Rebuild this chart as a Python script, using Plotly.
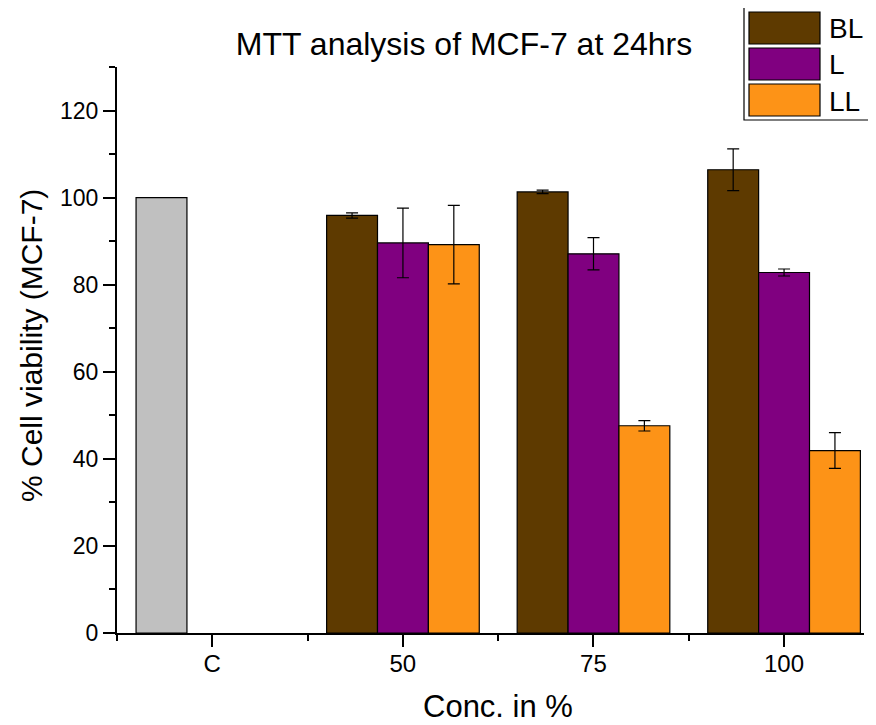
import plotly.graph_objects as go

categories = ["C", "50", "75", "100"]
control_value = [100.0]
series_names = ["BL", "L", "LL"]
bl_values = [None, 95.9, 101.3, 106.4]
bl_errors = [0, 0.6, 0.4, 4.8]
l_values = [None, 89.6, 87.1, 82.8]
l_errors = [0, 8.0, 3.7, 0.8]
ll_values = [None, 89.2, 47.6, 41.9]
ll_errors = [0, 9.0, 1.2, 4.1]
y_tick_values = [0, 20, 40, 60, 80, 100, 120]

colors = {"BL": "#5E3A00", "L": "#800080", "LL": "#FD9317"}
control_color = "#C0C0C0"

# page has an 8px body margin; work in page pixel coordinates and shift
OFF = 8
W, H = 876 - OFF, 725 - OFF
PLOT_L, PLOT_R, PLOT_T, PLOT_B = 117, 864, 67, 633  # page pixels
ML, MR = PLOT_L - OFF, W - (PLOT_R - OFF)
MT, MB = PLOT_T - OFF, H - (PLOT_B - OFF)
PW, PH = W - ML - MR, H - MT - MB

xpos = list(range(len(categories)))
bw = 0.267
offsets = {"BL": -0.4, "L": -0.4 + bw, "LL": -0.4 + 2 * bw}

fig = go.Figure()

fig.add_trace(go.Bar(
    x=[xpos[0]], y=control_value, width=bw, offset=-0.4,
    marker=dict(color=control_color, line=dict(color="black", width=1.2)),
    showlegend=False, name="C"))

for name, vals, errs in [("BL", bl_values, bl_errors), ("L", l_values, l_errors), ("LL", ll_values, ll_errors)]:
    fig.add_trace(go.Bar(
        x=xpos[1:], y=vals[1:], width=bw, offset=offsets[name], name=name,
        marker=dict(color=colors[name], line=dict(color="black", width=1.2)),
        error_y=dict(type="data", array=errs[1:], visible=True, color="black", thickness=1.2, width=6),
        showlegend=False))

def px2paper_x(px):
    return (px - PLOT_L) / PW

def px2paper_y(py):
    return (PLOT_B - py) / PH

FONT = "Liberation Sans, Arial, sans-serif"
shapes = []
annotations = []
# legend box
shapes.append(dict(type="rect", xref="paper", yref="paper",
                   x0=px2paper_x(744), x1=px2paper_x(872), y0=px2paper_y(120), y1=px2paper_y(7),
                   line=dict(color="black", width=1.2), fillcolor="white", layer="above"))
sw_tops = [12, 48, 84]
for i, name in enumerate(series_names):
    top = sw_tops[i]
    bot = top + 32
    shapes.append(dict(type="rect", xref="paper", yref="paper",
                       x0=px2paper_x(749), x1=px2paper_x(820), y0=px2paper_y(bot), y1=px2paper_y(top),
                       line=dict(color="black", width=1.2), fillcolor=colors[name], layer="above"))
    annotations.append(dict(text=name, xref="paper", yref="paper", x=px2paper_x(827), y=px2paper_y((top + bot) / 2 + 1),
                            xanchor="left", yanchor="middle", showarrow=False,
                            font=dict(size=28, color="black", family=FONT)))

# axis titles
annotations.append(dict(text="Conc. in %", xref="paper", yref="paper", x=px2paper_x(498), y=px2paper_y(706),
                        xanchor="center", yanchor="middle", showarrow=False,
                        font=dict(size=31, color="black", family=FONT)))
annotations.append(dict(text="% Cell viability (MCF-7)", xref="paper", yref="paper", x=px2paper_x(31),
                        y=px2paper_y(346), textangle=-90,
                        xanchor="center", yanchor="middle", showarrow=False,
                        font=dict(size=30, color="black", family=FONT)))

fig.update_layout(
    width=W, height=H,
    margin=dict(l=ML, r=MR, t=MT, b=MB),
    paper_bgcolor="white", plot_bgcolor="white",
    barmode="overlay",
    font=dict(family=FONT, color="black"),
    title=dict(text="MTT analysis of MCF-7 at 24hrs", x=(464 - OFF) / W, xref="container", xanchor="center",
               y=1 - (44 - OFF) / H, yref="container", yanchor="middle", font=dict(size=32)),
    shapes=shapes, annotations=annotations,
    xaxis=dict(range=[-0.5, 3.42], tickmode="array", tickvals=xpos, ticktext=categories, automargin=False,
               showline=True, linecolor="black", linewidth=2, ticks="outside", ticklen=12, tickwidth=1.5,
               tickcolor="black", showgrid=False, zeroline=False, tickfont=dict(size=24),
               ticklabelstandoff=-4,
               minor=dict(tickmode="array", tickvals=[-0.5, 0.5, 1.5, 2.5], ticks="outside", ticklen=6,
                          tickwidth=1.5, tickcolor="black", showgrid=False)),
    yaxis=dict(range=[0, 130], tickmode="array", tickvals=y_tick_values, automargin=False,
               showline=True, linecolor="black", linewidth=2, ticks="outside", ticklen=12, tickwidth=1.5,
               tickcolor="black", showgrid=False, zeroline=False, tickfont=dict(size=23),
               minor=dict(tickmode="array", tickvals=[10, 30, 50, 70, 90, 110, 130], ticks="outside", ticklen=6,
                          tickwidth=1.5, tickcolor="black", showgrid=False)),
)

fig.write_html("out.html")
